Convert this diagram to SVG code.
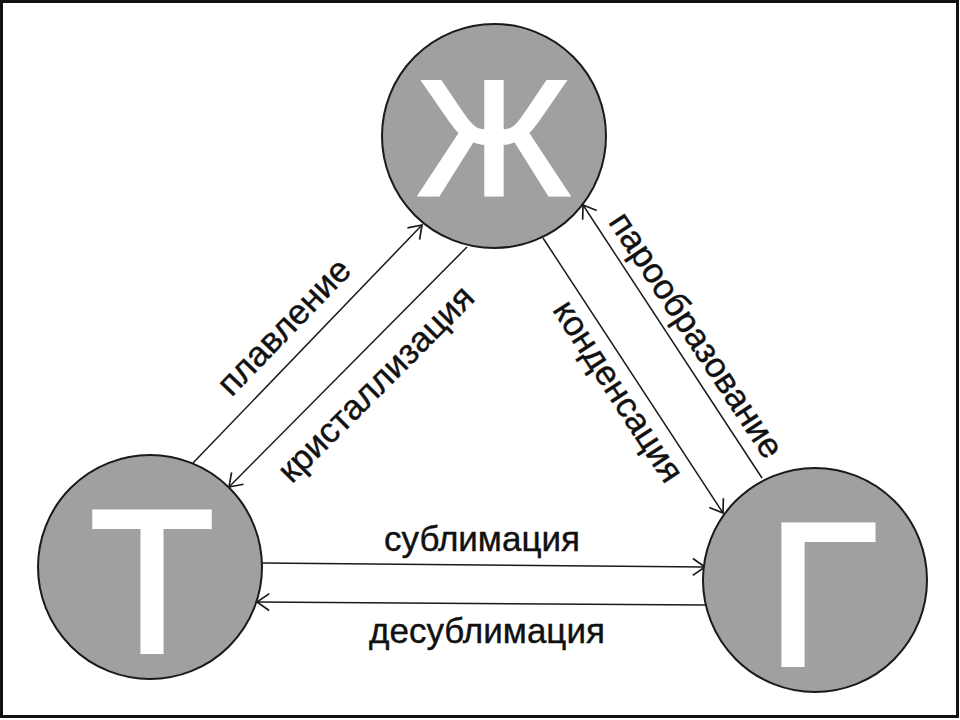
<svg xmlns="http://www.w3.org/2000/svg" width="960" height="720" viewBox="0 0 960 720">
  <defs>
    <style>
      .node { fill: #a0a0a0; stroke: #1a1a1a; stroke-width: 2; }
      .big { font-family: "Liberation Sans", Arial, sans-serif; fill: #ffffff; stroke: #ffffff; stroke-width: 4; stroke-linejoin: miter; text-anchor: middle; }
      .conn { stroke: #1a1a1a; stroke-width: 1.5; fill: none; marker-end: url(#arr); }
      .lbl { font-family: "Liberation Sans", Arial, sans-serif; font-size: 35px; fill: #111111; stroke: #111111; stroke-width: 0.4; text-anchor: middle; }
    </style>
    <marker id="arr" markerUnits="userSpaceOnUse" markerWidth="30" markerHeight="30" refX="0" refY="0" viewBox="-16 -15 32 30" orient="auto">
      <path d="M -13 -9 L 0 0 L -13 9" fill="none" stroke="#1a1a1a" stroke-width="1.8"/>
    </marker>
  </defs>
  <rect x="0" y="0" width="960" height="720" fill="#ffffff"/>
  <rect x="1.5" y="1.5" width="956" height="715" fill="none" stroke="#111111" stroke-width="3"/>

  <g id="connectors">
    <line class="conn" x1="193" y1="463" x2="422" y2="225"/>
    <line class="conn" x1="467" y1="247" x2="229" y2="487"/>
    <line class="conn" x1="543" y1="238" x2="723" y2="513"/>
    <line class="conn" x1="762" y1="478" x2="583" y2="205"/>
    <line class="conn" x1="262" y1="563" x2="705" y2="567"/>
    <line class="conn" x1="705" y1="605" x2="257" y2="602"/>
    <text class="lbl" transform="translate(285 328) rotate(-46)" x="0" y="10">плавление</text>
    <text class="lbl" transform="translate(377 385) rotate(-45)" x="0" y="10">кристаллизация</text>
    <text class="lbl" transform="translate(617 392) rotate(57)" x="0" y="10">конденсация</text>
    <text class="lbl" transform="translate(695 336) rotate(56.6)" x="0" y="10">парообразование</text>
    <text class="lbl" x="482" y="551">сублимация</text>
    <text class="lbl" x="487" y="643">десублимация</text>
  </g>

  <g id="node-liquid">
    <circle class="node" cx="494" cy="136" r="112"/>
    <text class="big" x="494" y="195" font-size="164">Ж</text>
  </g>
  <g id="node-solid">
    <circle class="node" cx="150" cy="567" r="112"/>
    <text class="big" x="152" y="652" font-size="204">Т</text>
  </g>
  <g id="node-gas">
    <circle class="node" cx="815" cy="580" r="112"/>
    <text class="big" x="822" y="665" font-size="204">Г</text>
  </g>
</svg>
